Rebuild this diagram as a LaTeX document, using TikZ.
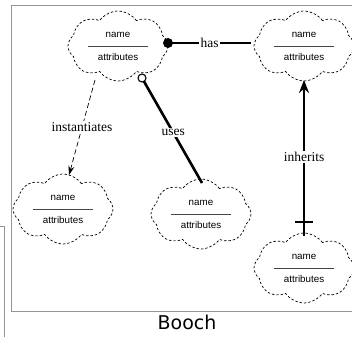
\documentclass[tikz,border=0pt]{standalone}
\usepackage{fontspec}
\setmainfont{Liberation Serif}
\newfontfamily\clsfont{Liberation Sans}
\newfontfamily\capfont{DejaVu Sans}
\usetikzlibrary{shapes.symbols,arrows.meta,calc}
\definecolor{framegray}{RGB}{150,150,150}
\definecolor{rulegray}{RGB}{70,70,70}
\tikzset{
  classcloud/.style={cloud, cloud puffs=8, cloud puff arc=110, shape border rotate=22.5,
    draw, dash pattern=on 2.4pt off 2pt, line width=0.7pt,
    minimum width=100pt, minimum height=70pt, inner sep=0pt,
    label={[font=\clsfont\fontsize{9.8}{11}\selectfont, inner sep=0pt, align=center]center:{name\\[-1pt]\textcolor{rulegray}{\rule{60pt}{1pt}}\\[2pt]attributes}}},
  relation/.style={line width=2.6pt},
  rellabel/.style={font=\fontsize{13.5}{15}\selectfont, fill=white, inner sep=1.5pt},
  framebox/.style={draw=framegray, line width=0.9pt}
}
\begin{document}
\begin{tikzpicture}[x=1pt,y=-1pt]
  \useasboundingbox (0,0) rectangle (352,336);
  \clip (0,0) rectangle (352,336);
  % frames
  \draw[framebox] (11,5) -- (360,5);
  \draw[framebox] (11,5) -- (11,311) -- (360,311);
  \draw[framebox] (-5,226) -- (4,226) -- (4,340);

  % class clouds
  \node[classcloud] (tl) at (118,46) {};
  \node[classcloud] (tr) at (304,46) {};
  \node[classcloud] (bl) at (63,209) {};
  \node[classcloud] (bm) at (201,214) {};
  \node[classcloud] (br) at (304,268) {};

  % has
  \coordinate (hasA) at ($(tl.center)+(50,-3)$);
  \draw[relation] (hasA) -- node[rellabel] {has} ($(tr.center)+(-53,-3)$);
  \fill (hasA) circle (5);

  % uses
  \coordinate (usesA) at ($(tl.center)+(24,32)$);
  \draw[relation] (usesA) -- node[rellabel, pos=0.52] {uses} ($(bm.center)+(1,-31)$);
  \draw[fill=white, line width=1.1pt] (usesA) circle (4);

  % instantiates
  \draw[dash pattern=on 5pt off 3pt, line width=0.7pt, -{Stealth[length=9pt,width=6pt]}]
    ($(tl.center)+(-23,34)$) -- node[rellabel] {instantiates} ($(bl.center)+(6,-34)$);

  % inherits
  \draw[relation, -{Stealth[length=13pt,width=10pt]}]
    ($(br.center)+(0,-32)$) -- node[rellabel, pos=0.505] {inherits} ($(tr.center)+(0,34)$);
  \draw[line width=1.5pt] ($(br.center)+(-9,-46)$) -- ($(br.center)+(9,-46)$);

  % caption
  \node[font=\capfont\fontsize{19}{22}\selectfont] (cap) at (187,322) {Booch};
\end{tikzpicture}
\end{document}
